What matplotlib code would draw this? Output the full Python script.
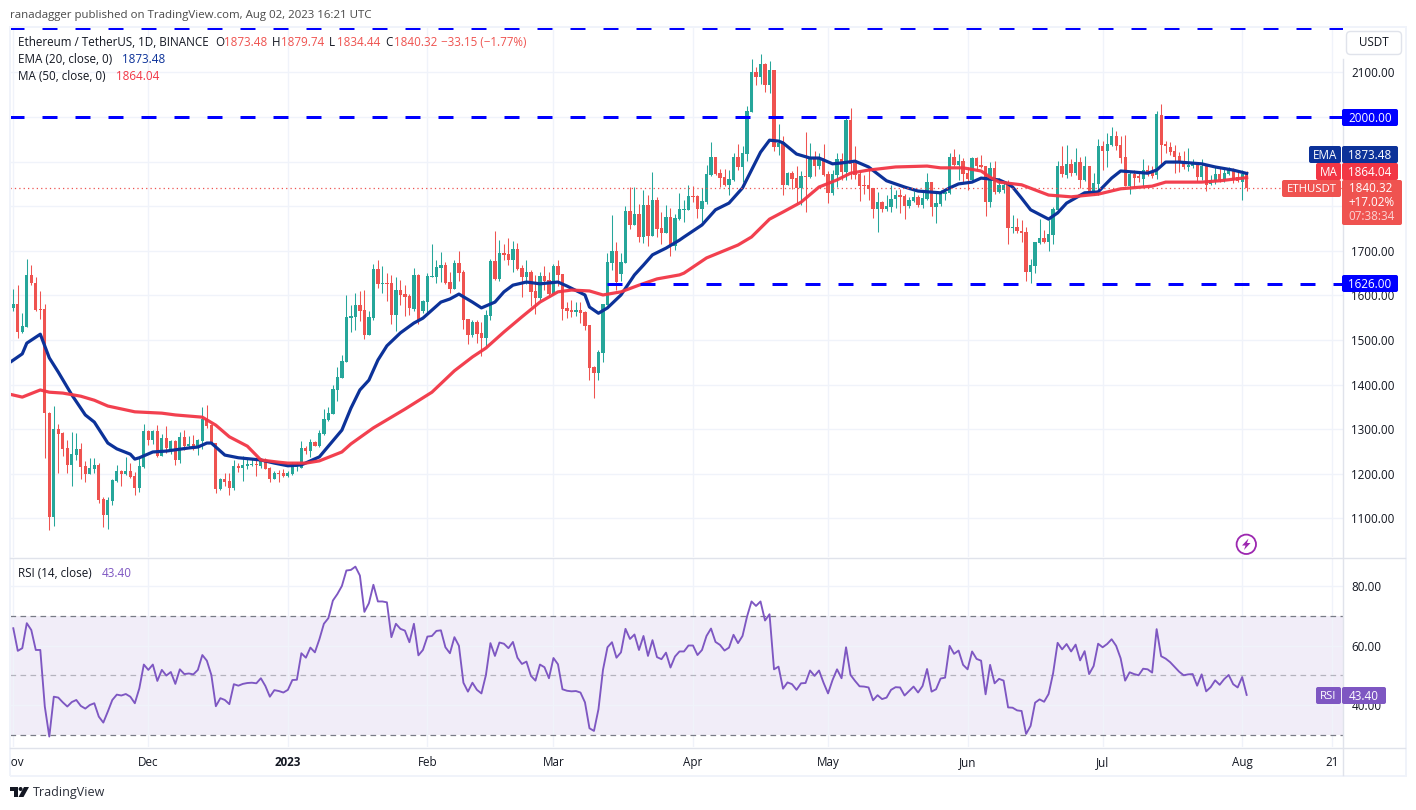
import matplotlib
matplotlib.use("Agg")
import matplotlib.pyplot as plt
from matplotlib.patches import Circle, FancyBboxPatch, Polygon, Rectangle

plt.rcParams['font.family'] = ['Open Sans', 'DejaVu Sans']

# daily candles, day 0 = 1 Nov 2022
opens = [1572,1581,1518,1529,1646,1628,1569,1569,1336,1103,
         1300,1292,1258,1220,1242,1256,1218,1200,1211,1220,
         1144,1108,1139,1184,1206,1200,1206,1195,1168,1215,
         1296,1276,1296,1240,1280,1256,1274,1231,1283,1262,
         1267,1262,1274,1323,1309,1269,1166,1188,1184,1168,
         1218,1213,1218,1220,1222,1218,1231,1213,1188,1202,
         1202,1195,1200,1215,1213,1258,1251,1271,1262,1289,
         1321,1334,1388,1415,1451,1549,1552,1578,1567,1511,
         1549,1659,1626,1628,1628,1556,1612,1603,1599,1569,
         1646,1565,1585,1641,1641,1661,1668,1630,1614,1673,
         1652,1547,1511,1540,1516,1504,1554,1677,1637,1695,
         1693,1679,1704,1661,1641,1652,1610,1594,1643,1635,
         1603,1666,1648,1572,1567,1563,1567,1563,1534,1439,
         1426,1471,1578,1673,1700,1648,1673,1789,1758,1783,
         1731,1803,1733,1814,1751,1740,1776,1711,1771,1792,
         1792,1823,1823,1794,1809,1870,1910,1874,1865,1848,
         1859,1910,1888,1917,2011,2101,2090,2119,2072,2105,
         1933,1944,1848,1874,1863,1841,1868,1865,1910,1890,
         1908,1872,1830,1870,1906,1877,1993,1897,1872,1848,
         1848,1841,1794,1809,1794,1798,1816,1825,1823,1800,
         1812,1821,1803,1816,1854,1798,1805,1827,1830,1910,
         1892,1901,1874,1859,1908,1892,1890,1809,1886,1832,
         1836,1848,1751,1753,1744,1742,1652,1666,1717,1729,
         1720,1735,1792,1890,1870,1895,1874,1899,1859,1890,
         1827,1850,1935,1924,1937,1957,1937,1910,1845,1872,
         1868,1861,1881,1879,1870,2004,1939,1933,1924,1913,
         1899,1888,1890,1895,1865,1890,1850,1857,1872,1859,
         1872,1883,1865,1854,1873.48]
highs = [1614,1623,1560,1682,1668,1641,1610,1581,1339,1352,
         1312,1294,1276,1294,1292,1269,1229,1236,1236,1224,
         1148,1148,1188,1220,1209,1238,1224,1204,1236,1312,
         1298,1298,1309,1289,1307,1276,1276,1294,1298,1285,
         1287,1278,1350,1354,1312,1269,1191,1202,1202,1231,
         1224,1240,1236,1233,1231,1236,1236,1215,1206,1209,
         1211,1206,1226,1226,1274,1262,1278,1274,1298,1345,
         1350,1399,1439,1466,1601,1578,1605,1610,1612,1565,
         1670,1679,1666,1650,1646,1641,1635,1623,1603,1661,
         1648,1590,1650,1715,1679,1697,1675,1652,1679,1700,
         1657,1547,1545,1545,1540,1567,1682,1744,1724,1715,
         1729,1722,1717,1668,1679,1657,1646,1652,1666,1652,
         1670,1679,1648,1585,1590,1585,1585,1565,1534,1442,
         1478,1581,1695,1780,1720,1695,1800,1843,1843,1805,
         1836,1825,1877,1821,1787,1803,1796,1783,1830,1814,
         1848,1845,1825,1841,1892,1944,1910,1883,1883,1881,
         1919,1939,1935,2025,2130,2112,2141,2121,2126,2105,
         1984,1957,1877,1879,1890,1879,1966,1942,1924,1919,
         1939,1879,1881,1919,1919,2000,2020,1935,1879,1870,
         1888,1841,1832,1812,1825,1848,1836,1839,1827,1821,
         1834,1825,1836,1874,1854,1830,1836,1836,1919,1928,
         1917,1908,1888,1910,1910,1915,1890,1899,1901,1863,
         1854,1859,1780,1774,1769,1753,1682,1720,1771,1747,
         1769,1798,1901,1935,1937,1906,1930,1910,1913,1890,
         1874,1951,1946,1964,1978,1969,1957,1960,1879,1881,
         1879,1906,1892,1890,2013,2029,1946,1944,1937,1922,
         1924,1930,1906,1897,1906,1892,1870,1890,1888,1886,
         1888,1886,1881,1881,1879.74]
lows = [1565,1504,1516,1529,1623,1565,1547,1236,1074,1083,
        1202,1240,1202,1173,1231,1188,1182,1200,1202,1135,
        1081,1076,1130,1182,1173,1197,1191,1153,1159,1213,
        1265,1267,1238,1240,1247,1244,1220,1224,1253,1260,
        1253,1242,1256,1303,1267,1157,1164,1173,1153,1164,
        1204,1184,1211,1218,1195,1213,1211,1182,1188,1182,
        1193,1193,1197,1206,1213,1244,1238,1262,1260,1287,
        1318,1334,1363,1415,1451,1518,1522,1543,1502,1511,
        1545,1617,1605,1587,1536,1520,1578,1554,1556,1565,
        1536,1560,1558,1641,1628,1630,1626,1605,1614,1632,
        1525,1491,1507,1493,1464,1487,1545,1635,1632,1679,
        1668,1652,1657,1596,1626,1576,1558,1590,1612,1596,
        1601,1621,1545,1549,1552,1554,1538,1522,1410,1370,
        1410,1451,1578,1657,1612,1632,1673,1749,1758,1720,
        1717,1711,1733,1731,1715,1740,1688,1702,1769,1765,
        1792,1809,1774,1765,1805,1868,1870,1843,1845,1825,
        1857,1881,1854,1901,2011,2072,2074,2056,2054,1924,
        1915,1825,1848,1839,1807,1803,1787,1863,1868,1883,
        1868,1807,1825,1843,1859,1859,1861,1861,1812,1827,
        1814,1774,1742,1787,1789,1787,1796,1785,1771,1796,
        1809,1798,1796,1814,1778,1762,1800,1814,1827,1890,
        1859,1854,1836,1857,1883,1886,1778,1798,1827,1830,
        1830,1715,1740,1740,1720,1632,1628,1650,1715,1717,
        1700,1715,1792,1865,1863,1868,1870,1841,1857,1827,
        1825,1825,1881,1888,1935,1926,1897,1845,1827,1843,
        1854,1845,1868,1863,1861,1895,1919,1915,1874,1877,
        1883,1879,1886,1857,1859,1834,1848,1850,1854,1854,
        1870,1852,1854,1814,1834.44]
closes = [1581,1518,1531,1646,1628,1567,1568,1336,1103,1300,
          1289,1256,1220,1244,1256,1215,1200,1213,1220,1141,
          1108,1141,1186,1206,1200,1206,1193,1168,1218,1296,
          1276,1296,1240,1280,1258,1274,1231,1283,1262,1267,
          1262,1276,1323,1307,1269,1166,1188,1182,1168,1218,
          1213,1220,1222,1222,1220,1229,1211,1188,1202,1200,
          1195,1202,1215,1220,1258,1251,1271,1262,1292,1323,
          1336,1390,1417,1453,1552,1554,1578,1565,1511,1552,
          1659,1626,1628,1626,1556,1612,1601,1596,1572,1646,
          1545,1587,1643,1643,1664,1668,1628,1614,1673,1650,
          1545,1511,1540,1513,1504,1556,1677,1637,1695,1691,
          1679,1704,1659,1641,1652,1608,1594,1643,1632,1603,
          1666,1646,1569,1565,1563,1567,1560,1531,1437,1426,
          1473,1581,1675,1700,1630,1675,1789,1758,1783,1731,
          1803,1733,1814,1749,1740,1776,1711,1774,1794,1794,
          1823,1821,1794,1812,1872,1910,1872,1863,1848,1861,
          1910,1888,1919,2013,2101,2090,2119,2072,2105,1933,
          1942,1848,1874,1861,1841,1868,1865,1910,1890,1908,
          1870,1830,1872,1906,1877,1993,1895,1870,1845,1845,
          1839,1794,1809,1794,1800,1816,1825,1821,1800,1814,
          1821,1803,1818,1854,1798,1807,1830,1832,1910,1892,
          1901,1872,1861,1908,1890,1888,1809,1886,1832,1848,
          1848,1751,1753,1744,1740,1652,1668,1720,1729,1720,
          1738,1794,1890,1872,1895,1874,1899,1859,1890,1827,
          1852,1935,1924,1939,1957,1935,1908,1845,1872,1863,
          1863,1881,1877,1868,2007,1937,1935,1922,1910,1897,
          1888,1892,1895,1865,1890,1848,1859,1872,1859,1874,
          1881,1859,1857,1873,1840.32]

# moving averages at their turning points
ema_days = [-1,2,3,6,8,10,13,16,18,21,23,26,27,28,31,34,39,41,43,44,47,50,55,58,61,64,68,73,75,77,79,81,83,86,89,91,95,97,99,
            102,104,107,109,111,114,117,121,123,127,128,130,132,135,138,140,142,145,148,149,153,156,159,162,164,166,168,170,171,
            174,177,179,182,184,187,190,194,198,201,206,208,210,213,215,219,221,222,224,226,230,232,234,238,241,244,246,252,254,
            256,259,264,267,271,274]
ema_vals = [1448,1469,1493,1513,1460,1428,1377,1332,1316,1269,1256,1244,1233,1236,1249,1251,1258,1260,1269,1269,1242,1236,1231,1224,1218,1220,1238,1298,1347,1388,1410,1455,1487,1516,1538,1549,1585,1592,1603,
            1585,1572,1585,1608,1623,1630,1626,1630,1621,1601,1574,1560,1572,1601,1646,1668,1691,1706,1724,1731,1758,1792,1807,1841,1881,1921,1948,1946,1942,
            1917,1908,1908,1895,1897,1901,1888,1857,1843,1834,1830,1841,1850,1854,1863,1859,1850,1843,1818,1792,1771,1785,1807,1830,1832,1863,1879,1874,1881,
            1899,1899,1895,1888,1881,1873.48]
ma_days = [-1,2,6,8,11,15,18,21,27,33,36,42,45,48,52,55,59,61,65,68,73,75,80,87,93,98,102,105,109,113,117,121,124,128,131,135,139,143,148,
           149,154,161,164,168,171,175,179,183,186,190,196,203,206,211,215,217,219,224,230,235,241,246,253,256,264,268,274]
ma_vals = [1379,1372,1388,1383,1381,1374,1365,1352,1339,1336,1332,1327,1309,1283,1262,1231,1226,1224,1224,1229,1249,1267,1303,1345,1383,1431,1462,1482,1518,1552,1585,1608,1612,1610,1601,1608,1623,1637,1646,
           1650,1684,1713,1731,1771,1787,1809,1843,1859,1874,1881,1888,1890,1886,1886,1879,1865,1854,1848,1825,1821,1827,1839,1845,1854,1854,1857,1864.04]

rsi_vals = [65.8,58.2,59.1,67.5,65.2,58.5,58.5,39.5,29.4,42.8,
            42.5,40.9,39.5,41.0,41.7,39.7,38.8,40.0,40.6,36.1,
            34.1,37.8,41.7,43.5,43.2,43.7,42.8,40.6,45.6,53.6,
            51.8,53.6,48.1,51.8,49.9,51.1,47.1,52.0,50.4,50.6,
            50.3,51.8,56.8,54.9,50.1,39.6,42.3,41.7,40.3,47.0,
            46.5,47.1,47.4,47.5,47.3,49.0,46.4,42.8,45.0,44.7,
            44.2,45.1,48.4,48.5,57.4,55.9,59.3,57.7,62.1,67.3,
            69.2,75.1,77.3,80.0,85.2,85.4,86.5,83.5,71.3,74.2,
            80.4,74.8,74.8,74.5,62.8,67.3,65.6,65.0,61.1,67.3,
            56.7,58.5,63.0,63.2,64.9,65.1,59.4,57.4,62.8,59.9,
            47.5,44.5,47.5,45.1,43.9,50.1,60.8,56.5,61.0,60.6,
            59.1,61.2,55.9,53.8,54.6,49.8,48.2,53.6,52.7,49.0,
            55.8,53.7,45.3,44.8,44.6,44.7,44.2,40.9,32.2,31.3,
            38.6,51.8,59.4,61.1,55.9,57.7,65.6,62.2,63.7,58.5,
            63.2,56.5,61.8,56.1,55.4,57.6,52.6,56.3,58.0,58.0,
            60.0,60.0,56.8,58.5,63.2,65.7,61.2,60.2,58.3,59.3,
            63.6,60.8,63.2,69.7,74.8,73.3,74.8,68.4,70.5,52.0,
            52.9,45.5,47.6,47.0,45.1,47.3,47.4,51.6,49.8,51.6,
            47.5,43.9,48.4,52.0,49.0,59.4,50.1,48.1,46.3,46.2,
            45.9,41.6,43.3,42.0,42.5,45.1,46.0,45.9,43.2,44.7,
            46.2,44.2,46.4,52.1,44.5,45.3,48.9,49.2,59.9,57.2,
            58.3,53.5,52.0,58.0,55.5,54.9,43.6,53.5,47.3,48.8,
            48.2,39.2,39.1,38.2,38.0,30.3,33.0,40.8,41.9,41.1,
            43.7,50.7,60.9,58.7,60.5,58.0,60.3,55.0,58.1,50.4,
            53.1,60.6,59.4,60.5,62.1,59.9,55.7,48.2,51.0,50.4,
            50.0,52.2,52.0,50.9,65.5,56.4,55.6,54.4,52.8,51.2,
            50.0,50.3,50.4,46.5,50.3,44.6,46.0,48.3,46.8,48.7,
            50.1,47.0,45.9,49.4,43.4]

# horizontal levels drawn on the chart and the day each one starts on
level_prices = [2200, 2000, 1626]
level_starts = [-1, -1, 132]

# 1800, 1900 and 2000 sit behind the price tags on the site, so they keep a grid line only
price_grid = [1100, 1200, 1300, 1400, 1500, 1600, 1700, 1800, 1900, 2000, 2100]
price_hidden = [1800, 1900, 2000]
rsi_ticks = [40, 60, 80]
tick_days = [0, 30, 61, 92, 120, 151, 181, 212, 242, 273, 293]
tick_labels = ['Nov', 'Dec', '2023', 'Feb', 'Mar', 'Apr', 'May', 'Jun', 'Jul', 'Aug', '21']

GREEN = '#26a69a'
RED = '#ef5350'
NAVY = '#0c3299'
MA_RED = '#f23645'
PURPLE = '#7e57c2'
GRID = '#f0f3fa'
EDGE = '#e0e3eb'
TEXT = '#131722'
W, H = 1416, 810


def pane(left, top, right, bottom):
    return fig.add_axes([left / W, 1 - bottom / H, (right - left) / W, (bottom - top) / H])


def put(x, y, s, **kw):
    # va center sits a pixel high for this font
    kw.setdefault('fontsize', 8.4)
    kw.setdefault('color', TEXT)
    over.text(x, y + 1, s, va='center', **kw)


def tag(x0, y0, x1, y1, color, s, **kw):
    box = FancyBboxPatch((x0, y0), x1 - x0, y1 - y0, boxstyle='round,pad=0,rounding_size=2',
                         fc=color, ec='none', zorder=5)
    over.add_patch(box)
    if s:
        kw.setdefault('color', 'white')
        put((x0 + x1) / 2, (y0 + y1) / 2, s, ha='center', zorder=6, **kw)


fig = plt.figure(figsize=(W / 100, H / 100), dpi=100, facecolor='white')

ax = pane(10, 27, 1343, 557)
rs = pane(10, 558, 1343, 747)
dt = pane(10, 747, 1343, 775)
xlim = (-0.73, 295.4)
for a in (ax, rs, dt):
    a.set_xlim(*xlim)
    for s in a.spines.values():
        s.set_visible(False)
ax.set_ylim(1013.5, 2201.8)
rs.set_ylim(25.9, 89.4)
dt.set_ylim(0, 1)
dt.set_xticks([])
dt.set_yticks([])

for a in (ax, rs):
    a.set_xticks(tick_days)
    a.set_xticklabels([])
    a.yaxis.tick_right()
    a.tick_params(length=0, pad=6, labelsize=8.4, labelcolor=TEXT)
    a.grid(True, color=GRID, lw=1)
    a.set_axisbelow(True)
ax.set_yticks(price_grid)
ax.set_yticklabels(['' if p in price_hidden else '%.2f' % p for p in price_grid])
rs.set_yticks(rsi_ticks)
rs.set_yticklabels(['%.2f' % v for v in rsi_ticks])

# candles
days = list(range(len(opens)))
colors = [GREEN if c >= o else RED for o, c in zip(opens, closes)]
ax.vlines(days, lows, highs, colors=colors, lw=0.75, zorder=2)
tops = [max(o, c) for o, c in zip(opens, closes)]
sizes = [max(abs(c - o), 2.3) for o, c in zip(opens, closes)]
ax.bar(days, sizes, bottom=[t - s for t, s in zip(tops, sizes)], width=0.72, color=colors, lw=0, zorder=3)

ax.plot(ema_days, ema_vals, color=NAVY, lw=2.3, zorder=4, solid_joinstyle='round')
ax.plot(ma_days, ma_vals, color=MA_RED, lw=2.3, zorder=4, solid_joinstyle='round', alpha=0.95)

# dash pattern scales with line width: 15px on, 18px off
for price, start in zip(level_prices, level_starts):
    ax.plot([start, xlim[1]], [price, price], color='#0000ff', lw=2.16, zorder=4,
            linestyle=(0, (5, 6)), dash_capstyle='butt')
ax.axhline(closes[-1], color=RED, lw=0.9, linestyle=(0, (1, 2.5)), zorder=4)

# rsi pane
rs.axhspan(30, 70, color=PURPLE, alpha=0.1, lw=0, zorder=0)
rs.axhline(70, color='#787b86', lw=0.9, linestyle=(0, (4.5, 3.5)), zorder=1)
rs.axhline(50, color='#787b86', lw=0.9, linestyle=(0, (4.5, 3.5)), alpha=0.5, zorder=1)
rs.axhline(30, color='#787b86', lw=0.9, linestyle=(0, (4.5, 3.5)), zorder=1)
rs.plot(days, rsi_vals, color=PURPLE, lw=1.35, zorder=3)

# date labels, clipped so Nov is cut by the left edge as on the site
for d, label in zip(tick_days, tick_labels):
    dt.text(d, 0.44, label, ha='center', va='center', fontsize=8.4, color=TEXT, clip_on=True,
            fontweight='bold' if label == '2023' else 'normal')

# overlay in pixel coordinates for frame, tags and legends
over = fig.add_axes([0, 0, 1, 1], facecolor='none', zorder=10)
over.set_xlim(0, W)
over.set_ylim(H, 0)
over.axis('off')

for x0, y0, x1, y1 in [(9.5, 26, 1406.5, 27.8), (9.5, 774.5, 1406.5, 776.5), (9, 26, 10.8, 776), (1405, 26, 1407, 776)]:
    over.add_patch(Rectangle((x0, y0), x1 - x0, y1 - y0, fc=GRID, ec='none'))
over.plot([1343, 1343], [59, 775], color=EDGE, lw=1)
over.plot([10, 1405], [557.5, 557.5], color=EDGE, lw=1)
over.plot([10, 1405], [747.5, 747.5], color=EDGE, lw=1)

put(10, 14.5, 'ranadagger published on TradingView.com, Aug 02, 2023 16:21 UTC', fontsize=8.25, color='#4a4a4a')

over.add_patch(FancyBboxPatch((1346.5, 31.5), 55, 23, boxstyle='round,pad=0,rounding_size=4',
                              fc='white', ec=EDGE, lw=1))
put(1374, 42, 'USDT', ha='center')

# legend rows
put(18, 41.5, 'Ethereum / TetherUS, 1D, BINANCE')
for x, s, c in [(215, 'O', TEXT), (224, '1873.48', RED), (272, 'H', TEXT), (281, '1879.74', RED),
                (329, 'L', TEXT), (337, '1834.44', RED), (385, 'C', TEXT), (394, '1840.32', RED),
                (441, '−33.15 (−1.77%)', RED)]:
    put(x, 41.5, s, color=c)
put(18, 58.5, 'EMA (20, close, 0)')
put(122, 58.5, '1873.48', color=NAVY)
put(18, 75.5, 'MA (50, close, 0)')
put(116, 75.5, '1864.04', color=MA_RED)
put(18, 572.5, 'RSI (14, close)')
put(102, 572.5, '43.40', color=PURPLE)

# price tags
tag(1342, 109, 1398, 126, '#0000ff', '2000.00')
tag(1342, 275, 1398, 292, '#0000ff', '1626.00')
tag(1309, 146, 1341, 163, NAVY, 'EMA')
tag(1342, 146, 1398, 163, NAVY, '1873.48')
tag(1316, 163, 1341, 180, MA_RED, 'MA')
tag(1342, 163, 1398, 180, MA_RED, '1864.04')
tag(1282, 180, 1341, 197, RED, 'ETHUSDT', fontsize=8.2)
tag(1342, 180, 1402, 225, RED, '')
put(1371, 187.5, '1840.32', color='white', ha='center', zorder=6)
put(1372, 202, '+17.02%', color='white', ha='center', zorder=6)
put(1372, 216, '07:38:34', color='#fbd4d3', ha='center', zorder=6)
tag(1316, 687, 1341, 704, PURPLE, 'RSI', fontsize=8.2)
tag(1342, 687, 1386, 704, PURPLE, '43.40')

# lightning badge
over.add_patch(Circle((1246.3, 544.3), 9.7, fc='white', ec='#9c27b0', lw=1.3))
over.add_patch(Polygon([(1248.5, 538.5), (1242, 545.5), (1245.5, 545.5), (1244, 550), (1250.5, 543), (1247, 543)],
                       closed=True, fc='#9c27b0', ec='none'))

# TradingView logo
over.add_patch(Polygon([(10, 787), (18, 787), (18, 797), (14, 797), (14, 791), (10, 791)], closed=True, fc=TEXT, ec='none'))
over.add_patch(Circle((20.6, 789), 2, fc=TEXT, ec='none'))
over.add_patch(Polygon([(24, 787), (29, 787), (23.5, 797), (18.5, 797)], closed=True, fc=TEXT, ec='none'))
put(33, 791.5, 'TradingView', fontsize=9, color='#2a2e39')

fig.savefig('out.png', dpi=100)
